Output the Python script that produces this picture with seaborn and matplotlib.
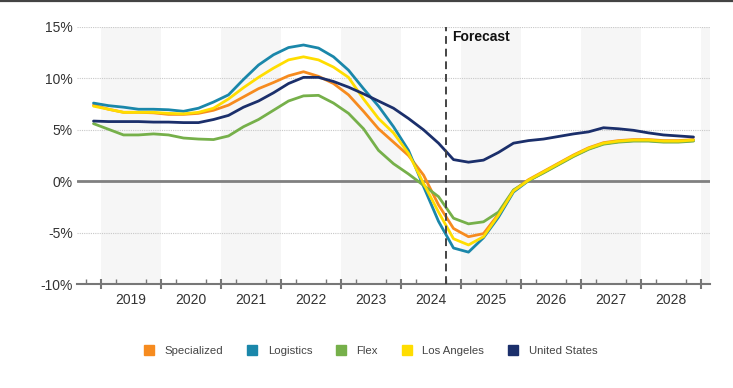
import matplotlib
matplotlib.use("Agg")
import matplotlib.pyplot as plt
from matplotlib.lines import Line2D
import seaborn as sns
import pandas as pd
import numpy as np

# ---------------- data ----------------
quarters = [str(p) for p in pd.period_range("2018Q4", "2028Q4", freq="Q")]
years = ["2019", "2020", "2021", "2022", "2023", "2024", "2025", "2026", "2027", "2028"]

specialized = [7.4, 7.0, 6.7, 6.7, 6.65, 6.5, 6.5, 6.6, 6.9, 7.4, 8.2, 9.0, 9.6, 10.25, 10.65, 10.2,
               9.5, 8.4, 6.8, 5.1, 3.8, 2.5, 0.6, -2.3, -4.6, -5.4, -5.1, -3.2, -0.9, 0.15, 0.95,
               1.75, 2.55, 3.25, 3.75, 3.95, 4.05, 4.05, 3.95, 3.95, 4.05]
logistics = [7.6, 7.35, 7.2, 7.0, 7.0, 6.95, 6.8, 7.1, 7.7, 8.4, 9.9, 11.3, 12.3, 13.0, 13.25, 12.95,
             12.1, 10.8, 9.0, 7.3, 5.3, 3.0, -0.5, -3.9, -6.5, -6.9, -5.5, -3.5, -1.05, 0.05, 0.85,
             1.65, 2.45, 3.15, 3.65, 3.85, 3.95, 3.95, 3.85, 3.85, 3.95]
flex = [5.6, 5.05, 4.5, 4.5, 4.6, 4.5, 4.2, 4.1, 4.05, 4.4, 5.3, 6.0, 6.9, 7.8, 8.3, 8.35,
        7.6, 6.6, 5.1, 3.0, 1.7, 0.7, -0.4, -1.5, -3.6, -4.15, -3.95, -3.0, -0.85, 0.05, 0.8,
        1.6, 2.4, 3.1, 3.6, 3.8, 3.9, 3.9, 3.8, 3.8, 3.9]
los_angeles = [7.3, 7.0, 6.7, 6.7, 6.7, 6.6, 6.55, 6.7, 7.1, 8.0, 9.1, 10.1, 11.0, 11.8, 12.1, 11.8,
               11.1, 10.1, 8.0, 6.1, 4.7, 2.7, -0.2, -3.0, -5.6, -6.2, -5.4, -3.3, -0.95, 0.1, 0.9,
               1.7, 2.5, 3.2, 3.7, 3.9, 4.0, 4.0, 3.9, 3.9, 4.0]
united_states = [5.85, 5.8, 5.8, 5.8, 5.75, 5.75, 5.7, 5.7, 6.0, 6.4, 7.2, 7.8, 8.6, 9.5, 10.1, 10.1,
                 9.7, 9.15, 8.5, 7.8, 7.1, 6.1, 5.0, 3.7, 2.1, 1.85, 2.05, 2.8, 3.7, 3.95, 4.1,
                 4.35, 4.6, 4.8, 5.2, 5.1, 4.95, 4.7, 4.5, 4.4, 4.3]

series_names = ["Specialized", "Logistics", "Flex", "Los Angeles", "United States"]
series_values = [specialized, logistics, flex, los_angeles, united_states]
colors = ["#F68B1F", "#1A87AA", "#76B04A", "#FFDD00", "#1B2F6B"]
forecast_start = "2024Q4"

# decimal-year position (quarter midpoint)
def qpos(q):
    p = pd.Period(q, freq="Q")
    return p.year + (p.quarter - 1) * 0.25 + 0.125

rows = []
for name, vals in zip(series_names, series_values):
    for q, v in zip(quarters, vals):
        rows.append({"t": qpos(q), "value": v, "series": name})
df = pd.DataFrame(rows)

# ---------------- plot ----------------
sns.set_theme(style="white")
plt.rcParams["font.family"] = ["Liberation Sans", "DejaVu Sans"]

fig = plt.figure(figsize=(7.33, 3.88), dpi=100)
ax = fig.add_axes([77 / 733, 1 - 284 / 388, (710 - 77) / 733, (284 - 27) / 388])

year_nums = [int(y) for y in years]
# alternate year shading
for y in year_nums + [2029]:
    if (y - 2019) % 2 == 0:
        ax.axvspan(y, y + 1, color="#F6F6F6", zorder=0, lw=0)

# grid lines
for g in [15, 10, 5, -5]:
    ax.axhline(g, color="#C8C8C8", lw=0.8, ls=(0, (1, 1)), zorder=1)
ax.axhline(0, color="#808080", lw=2, zorder=1)

sns.lineplot(data=df, x="t", y="value", hue="series", hue_order=series_names,
             palette=colors, lw=2.0, legend=False, ax=ax, zorder=3)

# forecast line
fx = qpos(forecast_start) - 0.125
ax.axvline(fx, color="#444444", lw=1.4, ls=(0, (4, 2.5)), zorder=4)
ax.text(fx + 0.1, 14.7, "Forecast", fontsize=10, fontweight="bold", color="#111111",
        va="top", ha="left", zorder=5)

ax.set_xlim(2018.6, 2029.15)
ax.set_ylim(-10, 15)
ax.set_yticks([-10, -5, 0, 5, 10, 15])
ax.set_yticklabels(["-10%", "-5%", "0%", "5%", "10%", "15%"])
ax.tick_params(axis="y", length=0, pad=3, labelsize=10, labelcolor="#333333")

# x labels at year midpoints
ax.set_xticks([y + 0.5 for y in year_nums])
ax.set_xticklabels(years)
ax.tick_params(axis="x", which="major", length=0, pad=6.5, labelsize=10, labelcolor="#333333")
minor = [v for v in np.arange(2018.75, 2029.01, 0.25) if abs(v - round(v)) > 1e-6]
ax.set_xticks(minor, minor=True)
ax.tick_params(axis="x", which="minor", direction="in", length=3.5, width=1, color="#777777",
               bottom=True)

sec = ax.secondary_xaxis("bottom")
sec.set_xticks(list(range(2019, 2030)))
sec.set_xticklabels([""] * 11)
sec.tick_params(direction="inout", length=7, width=1.5, color="#777777")
for s in sec.spines.values():
    s.set_visible(False)

for side in ["left", "right", "top"]:
    ax.spines[side].set_visible(False)
ax.spines["bottom"].set_color("#777777")
ax.spines["bottom"].set_linewidth(1.5)
ax.set_xlabel("")
ax.set_ylabel("")
ax.grid(False)

# legend
handles = [Line2D([0], [0], marker="s", linestyle="none", markersize=7.2,
                  markerfacecolor=c, markeredgecolor=c) for c in colors]
fig.legend(handles, series_names, loc="center", bbox_to_anchor=(0.505, 1 - 351 / 388),
           ncol=5, frameon=False, fontsize=8.2, handlelength=1.0, handletextpad=0.9,
           columnspacing=2.0, labelcolor="#444444")

# top border line
fig.add_artist(Line2D([0, 1], [0.998, 0.998], color="#444444", lw=1.6, transform=fig.transFigure))

fig.savefig("out.png", dpi=100)
